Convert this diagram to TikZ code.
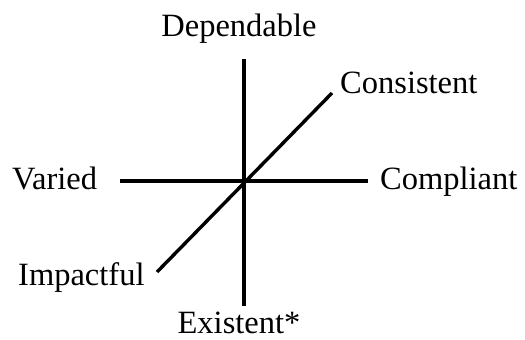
\documentclass[tikz,border=0pt]{standalone}
\usepackage{fontspec}
\setmainfont{Liberation Serif}
\begin{document}
\begin{tikzpicture}[x=1pt,y=-1pt,
  axis/.style={line width=3.4pt},
  lbl/.style={inner sep=0pt,font=\fontsize{32.5}{32.5}\selectfont}]
\useasboundingbox (0,0) rectangle (525,340);
\coordinate (top) at (244,59);
\coordinate (bot) at (244,306);
\coordinate (lft) at (120,181);
\coordinate (rgt) at (368,181);
\coordinate (ne) at (332,93);
\coordinate (sw) at (157,272);
\draw[axis] (top) -- (bot);
\draw[axis] (lft) -- (rgt);
\draw[axis] (sw) -- (ne);
\node[lbl,anchor=base] (dep) at (239,36) {Dependable};
\node[lbl,anchor=base west] (con) at (340,93) {Consistent};
\node[lbl,anchor=base west] (com) at (380,189) {Compliant};
\node[lbl,anchor=base west] (var) at (12,189) {Varied};
\node[lbl,anchor=base west] (imp) at (18,285) {Impactful};
\node[lbl,anchor=base] (exi) at (239,333) {Existent*};
\end{tikzpicture}
\end{document}
